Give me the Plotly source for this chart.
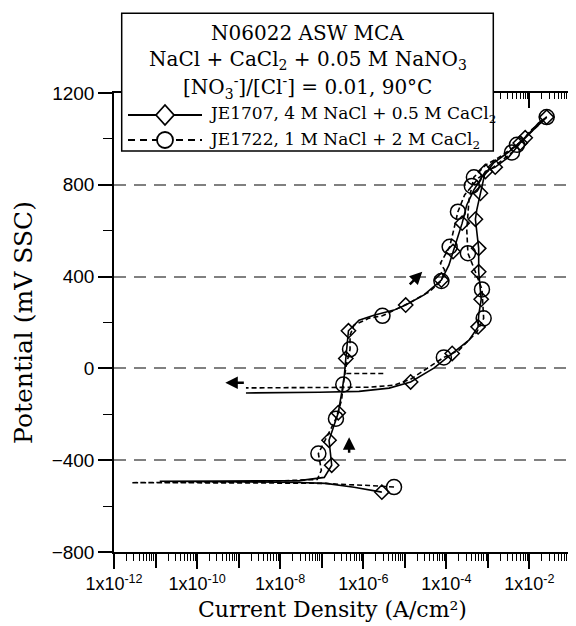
import math
import plotly.graph_objects as go

# ---------------- data ----------------
# JE1707, 4 M NaCl + 0.5 M CaCl2 (solid line, diamonds)
je1707_current = [2.8e-6, 6.0e-7, 1.26e-7, 2.9e-8, 1.8e-9, 1.15e-10, 1.26e-11, 3.5e-10, 2.9e-8, 1.15e-7,
                  1.74e-7, 1.5e-7, 2.0e-7, 2.5e-7, 3.1e-7, 3.5e-7, 3.8e-7, 4.1e-7, 4.4e-7, 7.9e-7,
                  1.8e-6, 5.5e-6, 1.05e-5, 2.9e-5, 7.6e-5, 1.15e-4, 1.45e-4, 2.0e-4, 2.4e-4, 3.1e-4,
                  4.6e-4, 8.7e-4, 1.5e-3, 3.2e-3, 6.0e-3, 1.26e-2, 2.6e-2, 1.66e-2, 7.9e-3, 3.2e-3,
                  1.38e-3, 8.3e-4, 6.6e-4, 5.4e-4, 5.0e-4, 5.4e-4, 6.0e-4, 6.0e-4, 6.9e-4, 6.0e-4,
                  5.8e-4, 3.5e-4, 1.38e-4, 5.0e-5, 1.38e-5, 4.2e-6, 7.9e-7, 8.7e-8, 1.5e-9]
je1707_potential = [-539, -518, -501, -497, -495, -494, -492, -491, -489, -475,
                    -422, -313, -248, -193, -95, -30, 43, 123, 164, 210,
                    232, 254, 276, 320, 385, 450, 509, 581, 633, 712,
                    778, 858, 877, 922, 982, 1040, 1095, 1070, 1005, 944,
                    896, 843, 763, 691, 650, 581, 523, 421, 301, 232,
                    181, 123, 65, 1, -59, -86, -100, -104, -107]
je1707_symbol_points = [0, 10, 11, 13, 16, 18, 22, 24, 26, 28, 31, 32, 34, 36, 38, 42, 44, 46, 47, 48, 50, 52, 54]

# JE1722, 1 M NaCl + 2 M CaCl2 (dashed line, circles)
je1722_current = [5.5e-6, 1.38e-6, 2.6e-7, 1.2e-7, 1.8e-9, 2.6e-12, 1.8e-9, 7.8e-8, 9.8e-8, 8.3e-8,
                  1.35e-7, 2.2e-7, 3.0e-7, 3.3e-7, 3.9e-7, 4.8e-7, 4.8e-7, 6.0e-7, 1.38e-6, 2.9e-6,
                  1.26e-5, 3.8e-5, 7.6e-5, 9.1e-5, 7.2e-5, 1.2e-4, 1.5e-4, 1.9e-4, 2.75e-4, 4.1e-4,
                  6.0e-4, 1.38e-3, 3.8e-3, 1.12e-2, 2.6e-2, 1.66e-2, 5.0e-3, 1.8e-3, 8.9e-4, 4.6e-4,
                  3.5e-4, 3.1e-4, 3.3e-4, 4.8e-4, 7.2e-4, 7.9e-4, 5.4e-4, 2.0e-4, 8.7e-5, 4.5e-5,
                  1.38e-5, 5.5e-6, 1.38e-6, 1.5e-9, None, 3.9e-7, 3.2e-6]
je1722_potential = [-517, -510, -505, -501, -499, -498, -495, -484, -444, -371,
                    -296, -219, -139, -70, 14, 83, 145, 189, 219, 229,
                    285, 333, 381, 429, 458, 530, 603, 683, 756, 795,
                    830, 878, 941, 1040, 1095, 1061, 974, 918, 887, 833,
                    734, 603, 502, 429, 344, 218, 158, 79, 48, 14,
                    -47, -73, -82, -85, None, -22, -22]
je1722_symbol_points = [0, 9, 11, 13, 15, 19, 22, 25, 27, 29, 32, 34, 36, 39, 42, 44, 45, 48]

x_decades = list(range(-12, 0))
x_label_decades = [-12, -10, -8, -6, -4, -2]
x_tick_labels = ["1x10<sup>%d</sup>" % e for e in x_label_decades]
y_major = [-800, -400, 0, 400, 800, 1200]
y_minor = [-600, -200, 200, 600, 1000]

header_lines = ["N06022 ASW MCA",
                "NaCl + CaCl<sub>2</sub> + 0.05 M NaNO<sub>3</sub>",
                "[NO<sub>3</sub><sup>-</sup>]/[Cl<sup>-</sup>] = 0.01, 90°C"]
series_names = ["JE1707, 4 M NaCl + 0.5 M CaCl<sub>2</sub>",
                "JE1722, 1 M NaCl + 2 M CaCl<sub>2</sub>"]
x_title = "Current Density (A/cm²)"
y_title = "Potential (mV SSC)"

# ---------------- layout geometry ----------------
# the page body adds an 8 px offset, so the figure is 8 px smaller than the window
OFF = 8
W, H = 576 - OFF, 626 - OFF
PL, PT, PW, PH = 114 - OFF, 93 - OFF, 457, 459
def pxx(px):            # reference-picture x (px) -> paper
    return (px - OFF - PL) / PW
def pxy(py):            # reference-picture y (px) -> paper
    return (PT + PH - (py - OFF)) / PH

SERIF = "DejaVu Serif, Liberation Serif, serif"
SANS = "Liberation Sans, Arial, sans-serif"
TICK = "black"

x_all_decades = [10.0 ** e for e in x_decades]
x_label_vals = [10.0 ** e for e in x_label_decades]
x_odd_vals = [10.0 ** e for e in x_decades if e not in x_label_decades]
x_minor_vals = [m * 10.0 ** e for e in x_decades[:-1] for m in range(2, 10)]

fig = go.Figure()
fig.add_trace(go.Scatter(x=je1707_current, y=je1707_potential, mode="lines",
                         line=dict(color="black", width=1.6), showlegend=False, hoverinfo="skip"))
fig.add_trace(go.Scatter(x=je1722_current, y=je1722_potential, mode="lines",
                         line=dict(color="black", width=1.6, dash="5px,3px"),
                         connectgaps=False, showlegend=False, hoverinfo="skip"))
fig.add_trace(go.Scatter(x=[je1707_current[i] for i in je1707_symbol_points],
                         y=[je1707_potential[i] for i in je1707_symbol_points],
                         mode="markers", name=series_names[0],
                         marker=dict(symbol="diamond-open", size=11, color="black",
                                     line=dict(color="black", width=1.5)),
                         showlegend=False, hoverinfo="skip"))
fig.add_trace(go.Scatter(x=[je1722_current[i] for i in je1722_symbol_points],
                         y=[je1722_potential[i] for i in je1722_symbol_points],
                         mode="markers", name=series_names[1],
                         marker=dict(symbol="circle-open", size=15, color="black",
                                     line=dict(color="black", width=1.5)),
                         showlegend=False, hoverinfo="skip"))
# invisible copies so that the overlay tick axes (top ticks, bottom ticks) are drawn
for ax_name in ["x2", "x3", "x4"]:
    fig.add_trace(go.Scatter(x=je1707_current[:1], y=je1707_potential[:1], xaxis=ax_name, yaxis="y",
                             mode="markers", marker=dict(opacity=0, size=1),
                             showlegend=False, hoverinfo="skip"))

fig.update_layout(
    width=W, height=H,
    margin=dict(l=PL, r=W - PL - PW, t=PT, b=H - PT - PH, autoexpand=False),
    paper_bgcolor="white", plot_bgcolor="white",
    showlegend=False,
    xaxis=dict(type="log", range=[-12, -1], tickmode="array", tickvals=x_label_vals,
               ticktext=x_tick_labels, ticks="outside", ticklen=15, tickwidth=2, tickcolor=TICK,
               showline=True, linecolor="black", linewidth=1.5,
               tickfont=dict(family=SANS, size=18, color="black"),
               showgrid=False, zeroline=False),
    # odd-decade long ticks at the bottom
    xaxis3=dict(type="log", range=[-12, -1], overlaying="x", side="bottom", anchor="y",
                tickmode="array", tickvals=x_odd_vals, showticklabels=False,
                ticks="outside", ticklen=15, tickwidth=2, tickcolor=TICK,
                showgrid=False, zeroline=False),
    # minor ticks at the bottom
    xaxis4=dict(type="log", range=[-12, -1], overlaying="x", side="bottom", anchor="y",
                tickmode="array", tickvals=x_minor_vals, showticklabels=False,
                ticks="outside", ticklen=8, tickwidth=1, tickcolor=TICK,
                showgrid=False, zeroline=False),
    # top axis: ticks pointing into the plot
    xaxis2=dict(type="log", range=[-12, -1], overlaying="x", side="top", anchor="y",
                tickmode="array", tickvals=x_all_decades, showticklabels=False,
                ticks="inside", ticklen=15, tickwidth=2, tickcolor=TICK,
                showline=True, linecolor="black", linewidth=1.5,
                minor=dict(tickmode="array", tickvals=x_minor_vals, ticks="inside", ticklen=6,
                           tickcolor=TICK, tickwidth=1),
                showgrid=False, zeroline=False),
    yaxis=dict(range=[-800, 1200], tickmode="array", tickvals=y_major, ticks="outside", ticklen=14,
               tickwidth=2, tickcolor=TICK, mirror="ticks",
               minor=dict(tickmode="array", tickvals=y_minor, ticks="outside", ticklen=9,
                          tickcolor=TICK, tickwidth=1),
               tickfont=dict(family=SANS, size=19, color="black"),
               title=dict(text=y_title, font=dict(family=SERIF, size=25, color="black"),
                          standoff=12),
               showline=True, linecolor="black", linewidth=1.5,
               zeroline=False, showgrid=True, gridcolor="#808080", gridwidth=1.5, griddash="12px,8px"),
)

# ---------------- legend box (drawn by hand) ----------------
shapes = [
    dict(type="rect", xref="paper", yref="paper", x0=pxx(121.7), x1=pxx(493.3), y0=pxy(151), y1=pxy(13.3),
         fillcolor="white", line=dict(color="black", width=1.5), layer="above"),
    dict(type="line", xref="paper", yref="paper", x0=pxx(128), x1=pxx(202), y0=pxy(115), y1=pxy(115),
         line=dict(color="black", width=1.8), layer="above"),
    dict(type="line", xref="paper", yref="paper", x0=pxx(128), x1=pxx(202), y0=pxy(140), y1=pxy(140),
         line=dict(color="black", width=1.8, dash="7px,5px"), layer="above"),
]
cx, cy, hw, hh = 165, 115, 9, 10
shapes.append(dict(type="path", xref="paper", yref="paper",
                   path="M %f,%f L %f,%f L %f,%f L %f,%f Z" % (pxx(cx - hw), pxy(cy), pxx(cx), pxy(cy - hh),
                                                             pxx(cx + hw), pxy(cy), pxx(cx), pxy(cy + hh)),
                   fillcolor="white", line=dict(color="black", width=1.8), layer="above"))
r = 8
shapes.append(dict(type="circle", xref="paper", yref="paper", x0=pxx(165 - r), x1=pxx(165 + r),
                   y0=pxy(140 + r), y1=pxy(140 - r), fillcolor="white",
                   line=dict(color="black", width=1.8), layer="above"))
fig.update_layout(shapes=shapes)

annotations = []
for txt, yc in zip(header_lines, [33, 60, 88]):
    annotations.append(dict(text=txt, xref="paper", yref="paper", x=pxx(307.5), y=pxy(yc),
                            xanchor="center", yanchor="middle", showarrow=False,
                            font=dict(family=SERIF, size=20, color="black")))
for txt, yc in zip(series_names, [115, 140]):
    annotations.append(dict(text=txt, xref="paper", yref="paper", x=pxx(207), y=pxy(yc),
                            xanchor="left", yanchor="middle", showarrow=False,
                            font=dict(family=SERIF, size=17, color="black")))
# x-axis title
annotations.append(dict(text=x_title, xref="paper", yref="paper", x=pxx(332), y=pxy(609),
                        xanchor="center", yanchor="middle", showarrow=False,
                        font=dict(family=SERIF, size=22, color="black")))
# scan-direction arrows
for hx, hy, ax, ay in [(-4.58, 421, -14, 14), (-9.32, -62, 20, 0), (-6.34, -300, 0, 17)]:
    annotations.append(dict(x=hx, y=hy, xref="x", yref="y", ax=ax, ay=ay, text="",
                            showarrow=True, arrowhead=2, arrowsize=1, arrowwidth=2.5,
                            arrowcolor="black"))
fig.update_layout(annotations=annotations)

fig.write_html("out.html")
